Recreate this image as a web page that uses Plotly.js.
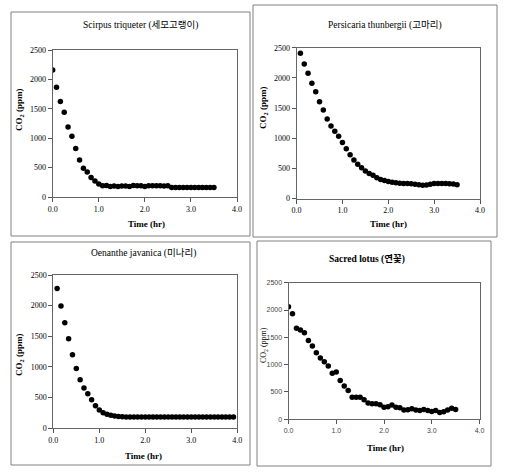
<!DOCTYPE html>
<html><head><meta charset="utf-8">
<script src="https://cdn.plot.ly/plotly-3.0.1.min.js"></script>
<style>html,body{margin:0;padding:0;background:#fff}#c{width:509px;height:474px}</style>
</head><body><div id="c"></div>
<script>
// ---- data ----
const titles = ["Scirpus triqueter (세모고랭이)", "Persicaria thunbergii (고마리)", "Oenanthe javanica (미나리)", "Sacred lotus (연꽃)"];
const xTitle = "Time (hr)";
const yTitle = "CO<sub>2</sub> (ppm)";
const xTicks = [0, 1, 2, 3, 4];
const xTickText = ["0.0", "1.0", "2.0", "3.0", "4.0"];
const yTicks = [0, 500, 1000, 1500, 2000, 2500];

const timeScirpus = [0,0.083,0.167,0.25,0.333,0.417,0.5,0.583,0.667,0.75,0.833,0.917,1.0,1.083,1.167,1.25,1.333,1.417,1.5,1.583,1.667,1.75,1.833,1.917,2.0,2.083,2.167,2.25,2.333,2.417,2.5,2.583,2.667,2.75,2.833,2.917,3.0,3.083,3.167,3.25,3.333,3.417,3.5];
const co2Scirpus = [2160,1865,1625,1443,1190,1035,825,630,487,425,330,270,220,190,195,180,185,180,185,185,180,195,190,190,180,190,190,190,190,185,190,160,160,160,160,160,160,160,160,160,160,160,160];

const timePersicaria = [0.083,0.167,0.25,0.333,0.417,0.5,0.583,0.667,0.75,0.833,0.917,1.0,1.083,1.167,1.25,1.333,1.417,1.5,1.583,1.667,1.75,1.833,1.917,2.0,2.083,2.167,2.25,2.333,2.417,2.5,2.583,2.667,2.75,2.833,2.917,3.0,3.083,3.167,3.25,3.333,3.417,3.5];
const co2Persicaria = [2410,2230,2075,1910,1768,1604,1466,1318,1200,1115,1030,928,825,725,640,568,510,455,415,385,345,315,298,280,268,260,254,250,248,245,238,228,220,222,235,248,248,248,248,246,240,228];

const timeOenanthe = [0.083,0.167,0.25,0.333,0.417,0.5,0.583,0.667,0.75,0.833,0.917,1.0,1.083,1.167,1.25,1.333,1.417,1.5,1.583,1.667,1.75,1.833,1.917,2.0,2.083,2.167,2.25,2.333,2.417,2.5,2.583,2.667,2.75,2.833,2.917,3.0,3.083,3.167,3.25,3.333,3.417,3.5,3.583,3.667,3.75,3.833,3.917];
const co2Oenanthe = [2280,1995,1720,1460,1200,975,790,658,565,465,368,298,252,228,212,200,192,188,186,185,184,185,186,185,184,184,183,183,183,183,183,183,183,183,183,183,183,183,183,183,183,183,183,183,183,183,183];

const timeLotus = [0,0.083,0.167,0.25,0.333,0.417,0.5,0.583,0.667,0.75,0.833,0.917,1.0,1.083,1.167,1.25,1.333,1.417,1.5,1.583,1.667,1.75,1.833,1.917,2.0,2.083,2.167,2.25,2.333,2.417,2.5,2.583,2.667,2.75,2.833,2.917,3.0,3.083,3.167,3.25,3.333,3.417,3.5];
const co2Lotus = [2062,1934,1665,1635,1586,1440,1342,1220,1122,1055,976,842,866,708,610,525,403,403,403,360,300,283,283,268,222,230,262,222,210,170,175,195,168,162,178,160,145,160,125,138,172,200,180];

// ---- layout helpers (pixel geometry) ----
const W = 509, H = 474;
const px = v => v / W, py = v => 1 - v / H;
const serif = "Liberation Serif, Times New Roman, serif";
const kr = "Liberation Serif, Noto Sans CJK KR, serif";

const panels = [
  {t: timeScirpus, v: co2Scirpus, plot: [52.7, 50, 237, 197], box: [11, 12, 250, 236], title: [140, 25], xt: [146, 224], yt: [19, 110], bold: false, tickFont: serif, tickSize: 8, tickColor: "#000"},
  {t: timePersicaria, v: co2Persicaria, plot: [296.6, 47.7, 480, 198.5], box: [253, 5, 497, 237], title: [385, 25], xt: [388, 224], yt: [263, 108], bold: false, tickFont: serif, tickSize: 8, tickColor: "#000"},
  {t: timeOenanthe, v: co2Oenanthe, plot: [53.3, 275, 237.3, 428.3], box: [11, 242, 250, 465], title: [143, 253], xt: [143, 456], yt: [19, 355], bold: false, tickFont: serif, tickSize: 8, tickColor: "#000"},
  {t: timeLotus, v: co2Lotus, plot: [288.5, 282.7, 479.5, 419.3], box: [257, 241, 491, 466], title: [367, 259], xt: [385, 448], yt: [264, 345], bold: true, tickFont: "Liberation Sans, Arial, sans-serif", tickSize: 7, tickColor: "#444"}
];

const data = [];
const layout = {
  width: W, height: H, margin: {l: 0, r: 0, t: 0, b: 0},
  paper_bgcolor: "#fff", plot_bgcolor: "#fff", showlegend: false,
  shapes: [], annotations: []
};

panels.forEach((p, i) => {
  const n = i === 0 ? "" : String(i + 1);
  data.push({
    x: p.t, y: p.v, type: "scatter", mode: "markers",
    xaxis: "x" + n, yaxis: "y" + n,
    marker: {color: "#000", size: 5.5}, hoverinfo: "skip"
  });
  const common = {
    showgrid: false, zeroline: false, showline: true, linecolor: "#666", linewidth: 1,
    mirror: true, ticks: "outside", ticklen: 4, tickcolor: "#555",
    tickfont: {family: p.tickFont, size: p.tickSize, color: p.tickColor}, fixedrange: true
  };
  layout["xaxis" + n] = Object.assign({}, common, {
    domain: [px(p.plot[0]), px(p.plot[2])], range: [0, 4],
    tickvals: xTicks, ticktext: xTickText, anchor: "y" + n
  });
  layout["yaxis" + n] = Object.assign({}, common, {
    domain: [py(p.plot[3]), py(p.plot[1])], range: [0, 2500],
    tickvals: yTicks, anchor: "x" + n
  });
  layout.shapes.push({type: "rect", xref: "paper", yref: "paper",
    x0: px(p.box[0]), x1: px(p.box[2]), y0: py(p.box[3]), y1: py(p.box[1]),
    line: {color: "#808080", width: 1}});
  layout.annotations.push({text: p.bold ? "<b>" + titles[i] + "</b>" : titles[i],
    xref: "paper", yref: "paper", x: px(p.title[0]), y: py(p.title[1]),
    xanchor: "center", yanchor: "middle", showarrow: false,
    font: {family: kr, size: 9.5, color: "#000"}});
  layout.annotations.push({text: "<b>" + xTitle + "</b>",
    xref: "paper", yref: "paper", x: px(p.xt[0]), y: py(p.xt[1]),
    xanchor: "center", yanchor: "middle", showarrow: false,
    font: {family: serif, size: 9, color: "#000"}});
  layout.annotations.push({text: p.bold ? yTitle : "<b>" + yTitle + "</b>",
    xref: "paper", yref: "paper", x: px(p.yt[0]), y: py(p.yt[1]),
    xanchor: "center", yanchor: "middle", showarrow: false, textangle: -90,
    font: {family: serif, size: p.bold ? 8 : 9, color: "#000"}});
});

Plotly.newPlot("c", data, layout, {displayModeBar: false, staticPlot: true});
</script>
</body></html>
